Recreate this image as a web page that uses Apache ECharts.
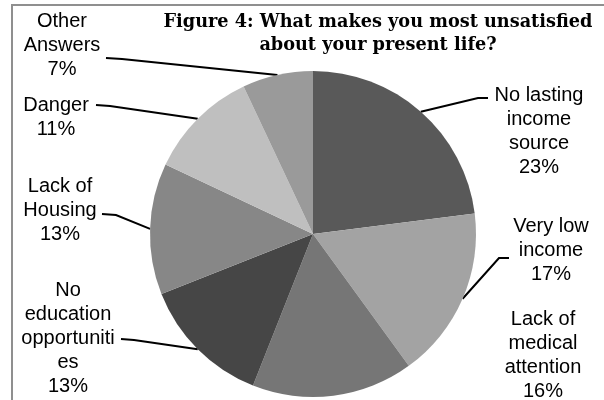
<!DOCTYPE html>
<html><head><meta charset="utf-8">
<script src="https://cdn.jsdelivr.net/npm/echarts@6/dist/echarts.min.js"></script>
<style>html,body{margin:0;padding:0;background:#fff}#c{width:604px;height:400px}</style>
</head><body><div id="c"></div>
<script>
const categories = ['No lasting\nincome\nsource', 'Very low\nincome', 'Lack of\nmedical\nattention', 'No\neducation\nopportuniti\nes', 'Lack of\nHousing', 'Danger', 'Other\nAnswers'];
const values = [23, 17, 16, 13, 13, 11, 7];
const colors = ['#595959', '#a3a3a3', '#767676', '#464646', '#878787', '#bfbfbf', '#9a9a9a'];
const titleText = 'Figure 4: What makes you most unsatisfied\nabout your present life?';

// label layout: label centre, leader bend and end point (null = no leader)
const labelPlace = [
  {c: [539, 131], bend: [478, 98], end: [488, 98]},
  {c: [551, 250], bend: [499, 258], end: [509, 258]},
  {c: [543, 355], bend: null, end: null},
  {c: [68, 338], bend: [134, 340], end: [121, 339]},
  {c: [60, 210], bend: [116, 215], end: [102, 214]},
  {c: [56, 117], bend: [110, 106], end: [96, 105]},
  {c: [62, 45], bend: [122, 59], end: [106, 58]}
];

const chart = echarts.init(document.getElementById('c'));
chart.setOption({
  animation: false,
  title: {
    text: titleText, left: 373, top: 6, textAlign: 'center',
    textStyle: {fontFamily: 'DejaVu Serif', fontWeight: 'bold', fontSize: 17.7, lineHeight: 23, color: '#000'}
  },
  graphic: [{type: 'rect', shape: {x: 12, y: 5, width: 620, height: 420}, style: {fill: 'none', stroke: '#8f8f8f', lineWidth: 2}, z: 100}],
  series: [{
    type: 'pie', center: [313, 234], radius: 163, startAngle: 90, clockwise: true,
    avoidLabelOverlap: false,
    data: categories.map((n, i) => ({name: n, value: values[i], itemStyle: {color: colors[i]},
      labelLine: {show: labelPlace[i].end !== null}})),
    label: {show: true, formatter: '{b}\n{c}%', fontFamily: 'Liberation Sans', fontSize: 20, lineHeight: 24, color: '#000', align: 'center'},
    labelLine: {show: true, lineStyle: {color: '#000', width: 2}},
    labelLayout: function (p) {
      const lp = labelPlace[p.dataIndex];
      const o = {x: lp.c[0], y: lp.c[1], align: 'center', verticalAlign: 'middle'};
      if (lp.end && p.labelLinePoints) {
        o.labelLinePoints = [p.labelLinePoints[0], lp.bend, lp.end];
      }
      return o;
    }
  }]
});
</script></body></html>
